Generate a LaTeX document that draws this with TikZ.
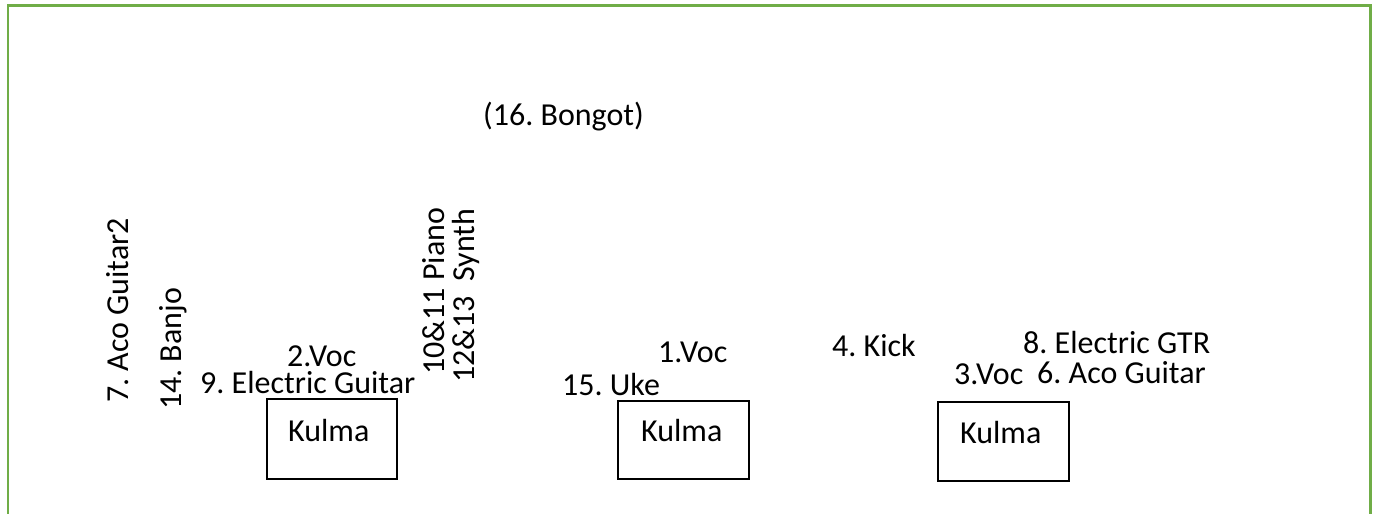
\documentclass[tikz,border=0pt]{standalone}
\usepackage{fontspec}
\setmainfont{Carlito}
\frenchspacing
\definecolor{framegreen}{HTML}{70AD47}
\begin{document}
\begin{tikzpicture}[x=1pt,y=-1pt,
  lbl/.style={inner sep=0pt, anchor=base west, font=\fontsize{32}{36}\selectfont},
  vlbl/.style={lbl, rotate=90},
  kbox/.style={draw=black, line width=2pt, minimum width=130pt, minimum height=80pt, inner sep=0pt},
  frame/.style={draw=framegreen, line width=2.6pt}]
\useasboundingbox (0,0) rectangle (1377,514);
\coordinate (fbl) at (8,520);
\coordinate (ftl) at (8,5.5);
\coordinate (ftr) at (1370.5,5.5);
\coordinate (fbr) at (1370.5,520);
\draw[frame] (fbl) -- (ftl) -- (ftr) -- (fbr);

\node[lbl] (bongo) at (483,125) {(16. Bongot)};

\node[vlbl] (aco2) at (128,403) {7. Aco Guitar2};
\node[vlbl] (banjo) at (181,410) {14. Banjo};
\node[vlbl] (piano) at (444,375) {10\&11 Piano};
\node[vlbl] (synth) at (474,383) {12\&13\ \ Synth};

\node[lbl] (voc2) at (287,366) {2.Voc};
\node[lbl] (eg) at (200,393) {9. Electric Guitar};
\node[lbl] (uke) at (562,395) {15. Uke};
\node[lbl] (voc1) at (658,362) {1.Voc};
\node[lbl] (kick) at (832,356) {4. Kick};
\node[lbl] (egtr) at (1023,353) {8. Electric GTR};
\node[lbl] (voc3) at (954,384) {3.Voc};
\node[lbl] (aco) at (1037,383) {6. Aco Guitar};

\node[kbox] (box1) at (332,439) {};
\node[kbox, minimum width=131pt, minimum height=78pt] (box2) at (683.5,440) {};
\node[kbox, minimum width=131pt, minimum height=79pt] (box3) at (1003.5,441.5) {};

\node[lbl] (k1) at (288,441) {Kulma};
\node[lbl] (k2) at (641,441) {Kulma};
\node[lbl] (k3) at (960,443) {Kulma};
\end{tikzpicture}
\end{document}
